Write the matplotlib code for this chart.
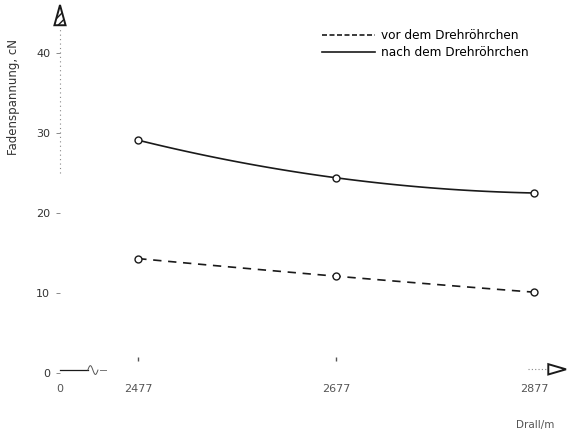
import numpy as np
import matplotlib
matplotlib.use("Agg")
import matplotlib.pyplot as plt
from matplotlib.patches import Polygon

# Twist levels (Drall/m) and yarn tension (cN)
drall = [2477, 2677, 2877]
vor_dreh = [14.3, 12.1, 10.1]
nach_dreh = [29.1, 24.4, 22.5]
y_ticks = [0, 10, 20, 30, 40]
x_tick_labels = ["0", "2477", "2677", "2877"]

plt.rcParams["font.family"] = ["DejaVu Sans"]

fig = plt.figure(figsize=(5.68, 4.37), dpi=100)
ax = fig.add_axes([60 / 568, 1 - 373 / 437, (566 - 60) / 568, (373 - 5) / 437])
x_lo, x_hi = 2398, 2909
ax.set_xlim(x_lo, x_hi)
ax.set_ylim(0, 46)

for s in ax.spines.values():
    s.set_visible(False)


def smooth(xs, ys):
    coef = np.polyfit(xs, ys, 2)
    xx = np.linspace(xs[0], xs[-1], 100)
    return xx, np.polyval(coef, xx)


col = "#1a1a1a"
xs, ys = smooth(drall, vor_dreh)
ax.plot(xs, ys, color=col, lw=1.2, ls=(0, (5, 4)))
xs, ys = smooth(drall, nach_dreh)
ax.plot(xs, ys, color=col, lw=1.2)
ax.plot(drall, vor_dreh, "o", ms=5, mfc="white", mec=col, mew=1.0, zorder=5)
ax.plot(drall, nach_dreh, "o", ms=5, mfc="white", mec=col, mew=1.0, zorder=5)

# y axis ticks and labels
ax.set_yticks(y_ticks)
ax.set_yticklabels([str(v) for v in y_ticks], fontsize=8, color="#333333")
ax.tick_params(axis="y", length=3, width=0.6, color="#777777", pad=4)

# x axis ticks (first one sits at the break near the origin)
ax.set_xticks([x_lo] + drall)
ax.set_xticklabels(x_tick_labels, fontsize=8, color="#555555")
ax.tick_params(axis="x", length=0, pad=8)

# faint dotted y axis with an arrow at the top
ax.plot([x_lo, x_lo], [25, 43], color="#888888", lw=0.8, ls=(0, (1, 3)),
        transform=ax.transData, clip_on=False)
ax.add_patch(Polygon([[0.0, 1.0], [-0.011, 0.945], [0.011, 0.945]], closed=True,
                     transform=ax.transAxes, fc="white", ec=col, lw=1.4,
                     hatch="////", clip_on=False))

# x axis: short piece at the origin with a break mark
ax.plot([0.0, 0.055], [0.008, 0.008], transform=ax.transAxes, color=col, lw=0.9,
        clip_on=False)
bx = np.linspace(0.055, 0.075, 20)
by = 0.008 + 0.012 * np.sin((bx - 0.055) / 0.02 * 2 * np.pi)
ax.plot(bx, by, transform=ax.transAxes, color="#555555", lw=0.7, clip_on=False)
ax.plot([0.08, 0.09], [0.008, 0.008], transform=ax.transAxes, color="#777777",
        lw=0.7, clip_on=False)
# x axis arrow on the right
ax.plot([0.925, 0.965], [0.01, 0.01], transform=ax.transAxes, color="#888888",
        lw=0.8, ls=(0, (1, 2)), clip_on=False)
ax.add_patch(Polygon([[1.0, 0.01], [0.965, -0.004], [0.965, 0.024]], closed=True,
                     transform=ax.transAxes, fc="white", ec=col, lw=1.4,
                     clip_on=False))

# small tick dots above the labels
for xv in drall[:2]:
    ax.plot([xv], [1.8], marker="|", ms=3, color="#555555", clip_on=False)

# axis titles
fig.text(14 / 568, 1 - 97 / 437, "Fadenspannung, cN", rotation=90,
         fontsize=8.5, color="#333333", ha="center", va="center")
fig.text(535 / 568, 1 - 425 / 437, "Drall/m", fontsize=7.5, color="#555555",
         ha="center", va="center")

# legend
leg_handles = [
    plt.Line2D([], [], color=col, lw=1.2, ls=(0, (3, 1.5))),
    plt.Line2D([], [], color=col, lw=1.2),
]
ax.legend(leg_handles, ["vor dem Drehröhrchen", "nach dem Drehröhrchen"],
          loc="upper left", bbox_to_anchor=((322 - 60) / 506, 1 - (29 - 5) / 368),
          frameon=False, fontsize=8.7, handlelength=4.4, handletextpad=0.5,
          labelspacing=0.32, borderaxespad=0, borderpad=0)

fig.savefig("out.png", dpi=100)
